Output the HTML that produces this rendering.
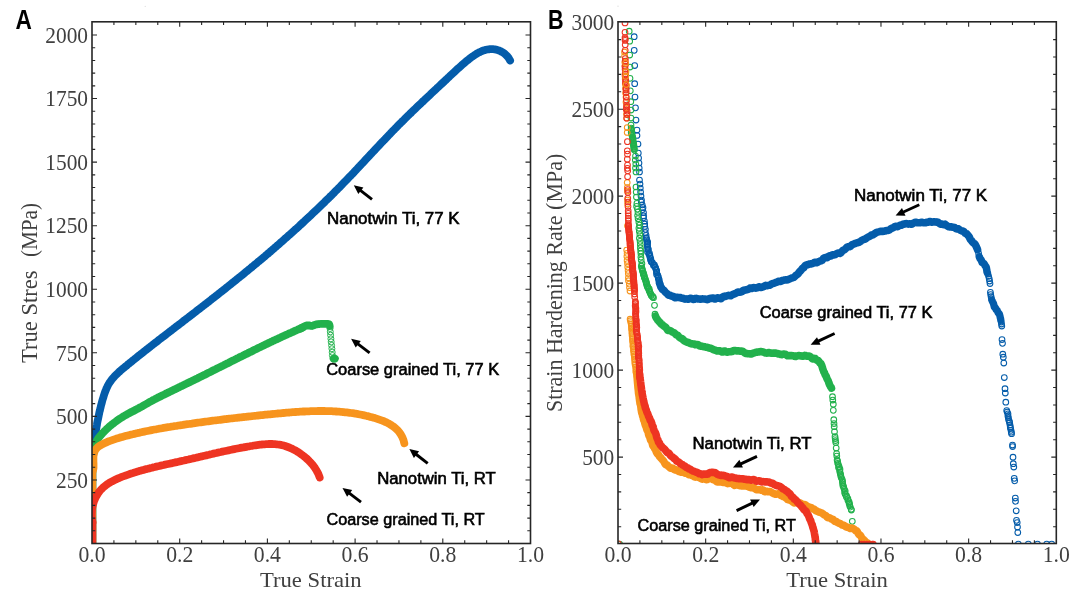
<!DOCTYPE html>
<html lang="en"><head><meta charset="utf-8"><title>Figure</title>
<style>
html,body{margin:0;padding:0;background:#fff;}
body{width:1080px;height:600px;overflow:hidden;}
svg{display:block;}
.serif{font-family:"Liberation Serif",serif;fill:#404040;}
.sans{font-family:"Liberation Sans",sans-serif;fill:#000;stroke:#000;stroke-width:0.6px;}
.lab{font-family:"Liberation Sans",sans-serif;font-weight:bold;fill:#000;}
</style></head><body>
<svg width="1080" height="600" viewBox="0 0 1080 600">
<rect width="1080" height="600" fill="#fff"/>
<circle cx="145.2" cy="6.3" r="0.6" fill="#d8d8d8"/><circle cx="618" cy="6.2" r="0.6" fill="#d8d8d8"/>
<defs>
<clipPath id="ca"><rect x="92.0" y="21.8" width="438.5" height="521.7"/></clipPath>
<clipPath id="cb"><rect x="618.0" y="21.8" width="438.3" height="521.7"/></clipPath>
</defs>
<g clip-path="url(#ca)">
<path d="M92.3,546L92.3,470" stroke="#045CAA" stroke-width="7.8" stroke-linecap="round" fill="none"/>
<path d="M92.4,470.0 L92.5,468.5 L92.5,467.0 L92.6,465.5 L92.6,464.0 L92.7,462.5 L92.8,461.0 L92.9,459.5 L93.0,458.0 L93.1,456.5 L93.2,455.0 L93.3,453.5 L93.4,452.0 L93.6,450.5 L93.7,449.0 L93.8,447.5 L94.0,446.0 L94.1,444.5 L94.3,443.0 L94.5,441.5 L94.7,440.0 L94.9,438.5 L95.0,437.0 L95.2,435.5 L95.5,434.0 L95.7,432.5 L95.9,431.0 L96.1,429.5 L96.4,428.0 L96.6,426.5 L96.9,425.1 L97.1,423.6 L97.4,422.1 L97.7,420.6 L98.0,419.2 L98.3,417.7 L98.6,416.2 L98.9,414.8 L99.2,413.3 L99.5,411.8 L99.9,410.4 L100.2,408.9 L100.6,407.5 L100.9,406.0 L101.3,404.5 L101.7,403.1 L102.1,401.6 L102.5,400.1 L102.9,398.7 L103.4,397.2 L103.8,395.7 L104.3,394.3 L104.8,392.8 L105.3,391.4 L105.9,390.0 L106.4,388.6 L107.1,387.2 L107.7,385.8 L108.4,384.5 L109.2,383.2 L110.0,382.0 L110.9,380.8 L111.7,379.6 L112.7,378.4 L113.7,377.3 L114.7,376.2 L115.7,375.1 L116.8,374.1 L117.9,373.1 L119.0,372.0 L120.1,371.0 L121.2,370.1 L122.4,369.1 L123.6,368.1 L124.7,367.1 L125.9,366.2 L127.1,365.2 L128.2,364.2 L129.4,363.3 L130.6,362.3 L131.8,361.4 L132.9,360.4 L134.1,359.5 L135.3,358.5 L136.5,357.6 L137.6,356.6 L138.8,355.7 L140.0,354.8 L141.2,353.8 L142.4,352.9 L143.5,352.0 L144.7,351.0 L145.9,350.1 L147.1,349.2 L148.3,348.2 L149.5,347.3 L150.6,346.4 L151.8,345.5 L153.0,344.5 L154.2,343.6 L155.4,342.7 L156.6,341.8 L157.8,340.9 L158.9,339.9 L160.1,339.0 L161.3,338.1 L162.5,337.2 L163.7,336.3 L164.9,335.4 L166.1,334.4 L167.3,333.5 L168.5,332.6 L169.6,331.7 L170.8,330.8 L172.0,329.9 L173.2,329.0 L174.4,328.0 L175.6,327.1 L176.8,326.2 L178.0,325.3 L179.2,324.4 L180.4,323.5 L181.6,322.6 L182.8,321.7 L183.9,320.7 L185.1,319.8 L186.3,318.9 L187.5,318.0 L188.7,317.1 L189.9,316.2 L191.1,315.2 L192.3,314.3 L193.5,313.4 L194.7,312.5 L195.9,311.6 L197.1,310.6 L198.2,309.7 L199.4,308.8 L200.6,307.9 L201.8,307.0 L203.0,306.0 L204.2,305.1 L205.4,304.2 L206.6,303.3 L207.8,302.3 L209.0,301.4 L210.1,300.5 L211.3,299.6 L212.5,298.6 L213.7,297.7 L214.9,296.8 L216.1,295.8 L217.3,294.9 L218.4,294.0 L219.6,293.0 L220.8,292.1 L222.0,291.2 L223.2,290.2 L224.4,289.3 L225.6,288.4 L226.7,287.4 L227.9,286.5 L229.1,285.5 L230.3,284.6 L231.5,283.7 L232.6,282.7 L233.8,281.8 L235.0,280.8 L236.2,279.9 L237.3,278.9 L238.5,278.0 L239.7,277.0 L240.9,276.1 L242.0,275.2 L243.2,274.2 L244.4,273.2 L245.5,272.3 L246.7,271.3 L247.9,270.4 L249.0,269.4 L250.2,268.5 L251.4,267.5 L252.5,266.5 L253.7,265.6 L254.9,264.6 L256.0,263.7 L257.2,262.7 L258.3,261.7 L259.5,260.8 L260.7,259.8 L261.8,258.8 L263.0,257.9 L264.1,256.9 L265.3,255.9 L266.4,254.9 L267.6,254.0 L268.7,253.0 L269.9,252.0 L271.0,251.0 L272.2,250.0 L273.3,249.1 L274.4,248.1 L275.6,247.1 L276.7,246.1 L277.9,245.1 L279.0,244.1 L280.1,243.1 L281.3,242.1 L282.4,241.1 L283.5,240.1 L284.6,239.1 L285.8,238.1 L286.9,237.1 L288.0,236.1 L289.2,235.1 L290.3,234.1 L291.4,233.1 L292.5,232.1 L293.6,231.1 L294.7,230.1 L295.9,229.1 L297.0,228.1 L298.1,227.1 L299.2,226.1 L300.3,225.0 L301.4,224.0 L302.5,223.0 L303.6,222.0 L304.7,220.9 L305.8,219.9 L306.9,218.9 L308.0,217.9 L309.1,216.8 L310.2,215.8 L311.3,214.8 L312.4,213.7 L313.5,212.7 L314.6,211.7 L315.7,210.6 L316.8,209.6 L317.9,208.6 L319.0,207.5 L320.0,206.5 L321.1,205.4 L322.2,204.4 L323.3,203.3 L324.4,202.3 L325.4,201.2 L326.5,200.2 L327.6,199.1 L328.7,198.1 L329.7,197.0 L330.8,196.0 L331.9,194.9 L332.9,193.8 L334.0,192.8 L335.0,191.7 L336.1,190.6 L337.2,189.6 L338.2,188.5 L339.3,187.4 L340.3,186.4 L341.4,185.3 L342.4,184.2 L343.5,183.1 L344.5,182.1 L345.6,181.0 L346.6,179.9 L347.7,178.8 L348.7,177.7 L349.7,176.6 L350.8,175.6 L351.8,174.5 L352.9,173.4 L353.9,172.3 L354.9,171.2 L356.0,170.1 L357.0,169.0 L358.0,167.9 L359.0,166.8 L360.1,165.7 L361.1,164.6 L362.1,163.5 L363.2,162.4 L364.2,161.3 L365.2,160.2 L366.2,159.1 L367.3,158.0 L368.3,156.9 L369.3,155.8 L370.3,154.7 L371.4,153.6 L372.4,152.5 L373.4,151.4 L374.5,150.3 L375.5,149.2 L376.5,148.1 L377.5,147.0 L378.6,145.9 L379.6,144.8 L380.6,143.7 L381.7,142.6 L382.7,141.6 L383.7,140.5 L384.8,139.4 L385.8,138.3 L386.9,137.2 L387.9,136.1 L388.9,135.0 L390.0,133.9 L391.0,132.8 L392.1,131.7 L393.1,130.6 L394.2,129.6 L395.2,128.5 L396.3,127.4 L397.4,126.3 L398.4,125.2 L399.5,124.2 L400.6,123.1 L401.6,122.0 L402.7,121.0 L403.8,119.9 L404.9,118.8 L405.9,117.8 L407.0,116.7 L408.1,115.6 L409.2,114.6 L410.3,113.5 L411.4,112.5 L412.4,111.4 L413.5,110.4 L414.6,109.3 L415.7,108.3 L416.8,107.2 L417.9,106.2 L419.0,105.1 L420.1,104.1 L421.2,103.1 L422.3,102.0 L423.4,101.0 L424.5,99.9 L425.6,98.9 L426.7,97.9 L427.8,96.8 L428.9,95.8 L430.0,94.8 L431.1,93.7 L432.2,92.7 L433.3,91.7 L434.4,90.7 L435.5,89.6 L436.6,88.6 L437.6,87.6 L438.7,86.6 L439.8,85.6 L440.9,84.5 L442.0,83.5 L443.1,82.5 L444.2,81.5 L445.2,80.5 L446.3,79.5 L447.4,78.4 L448.5,77.4 L449.5,76.4 L450.6,75.4 L451.7,74.4 L452.8,73.4 L453.9,72.4 L454.9,71.4 L456.0,70.4 L457.1,69.3 L458.3,68.3 L459.4,67.3 L460.5,66.3 L461.6,65.3 L462.8,64.3 L464.0,63.3 L465.1,62.3 L466.3,61.3 L467.5,60.3 L468.8,59.3 L470.0,58.3 L471.2,57.4 L472.5,56.5 L473.8,55.6 L475.1,54.7 L476.4,53.9 L477.7,53.1 L479.0,52.4 L480.4,51.8 L481.7,51.2 L483.1,50.6 L484.5,50.2 L485.9,49.8 L487.3,49.5 L488.7,49.3 L490.1,49.1 L491.6,49.1 L493.0,49.2 L494.5,49.3 L495.9,49.6 L497.4,50.0 L498.8,50.4 L500.2,51.0 L501.5,51.7 L502.8,52.4 L504.1,53.3 L505.3,54.3 L506.4,55.3 L507.5,56.5 L508.5,57.7 L509.3,59.1 L510.1,60.5" fill="none" stroke="#045CAA" stroke-width="7.8" stroke-linecap="round" stroke-linejoin="round"/>
<path d="M92.3,546L92.3,462" stroke="#22B14C" stroke-width="7.8" stroke-linecap="round" fill="none"/>
<path d="M92.4,462.0 L92.4,460.4 L92.4,458.8 L92.5,457.3 L92.6,455.7 L92.7,454.2 L92.9,452.7 L93.1,451.2 L93.4,449.8 L93.7,448.3 L94.1,446.9 L94.6,445.5 L95.1,444.1 L95.7,442.8 L96.4,441.5 L97.1,440.2 L97.9,438.9 L98.8,437.7 L99.7,436.5 L100.7,435.3 L101.7,434.2 L102.7,433.0 L103.8,431.9 L104.8,430.8 L105.9,429.8 L107.0,428.7 L108.2,427.7 L109.3,426.7 L110.4,425.7 L111.6,424.7 L112.8,423.8 L114.0,422.9 L115.2,422.0 L116.4,421.1 L117.6,420.2 L118.9,419.3 L120.1,418.5 L121.4,417.7 L122.7,416.9 L123.9,416.1 L125.2,415.4 L126.5,414.7 L127.8,413.9 L129.1,413.2 L130.4,412.5 L131.7,411.8 L133.1,411.2 L134.4,410.5 L135.7,409.8 L137.0,409.1 L138.4,408.4 L139.7,407.6 L141.1,406.9 L142.4,406.2 L143.7,405.4 L145.1,404.6 L146.4,403.9 L147.8,403.1 L149.1,402.3 L150.5,401.6 L151.8,400.9 L153.1,400.1 L154.5,399.4 L155.8,398.7 L157.2,398.0 L158.5,397.3 L159.9,396.7 L161.2,396.0 L162.6,395.3 L163.9,394.7 L165.3,394.0 L166.6,393.3 L168.0,392.7 L169.3,392.0 L170.7,391.4 L172.0,390.7 L173.4,390.0 L174.7,389.4 L176.1,388.7 L177.4,388.1 L178.8,387.4 L180.1,386.8 L181.5,386.1 L182.8,385.5 L184.2,384.8 L185.5,384.1 L186.9,383.5 L188.2,382.8 L189.6,382.2 L190.9,381.5 L192.3,380.9 L193.6,380.2 L195.0,379.5 L196.3,378.9 L197.7,378.2 L199.0,377.5 L200.4,376.9 L201.7,376.2 L203.1,375.5 L204.4,374.9 L205.8,374.2 L207.1,373.5 L208.5,372.8 L209.8,372.2 L211.2,371.5 L212.5,370.8 L213.9,370.1 L215.2,369.5 L216.6,368.8 L218.0,368.1 L219.3,367.4 L220.7,366.7 L222.0,366.1 L223.4,365.4 L224.7,364.7 L226.1,364.0 L227.4,363.4 L228.8,362.7 L230.1,362.0 L231.5,361.3 L232.9,360.6 L234.2,360.0 L235.6,359.3 L236.9,358.6 L238.3,357.9 L239.6,357.2 L241.0,356.6 L242.4,355.9 L243.7,355.2 L245.1,354.5 L246.4,353.9 L247.8,353.2 L249.1,352.5 L250.5,351.9 L251.9,351.2 L253.2,350.5 L254.6,349.8 L255.9,349.2 L257.3,348.5 L258.7,347.8 L260.0,347.2 L261.4,346.5 L262.8,345.9 L264.1,345.2 L265.5,344.5 L266.8,343.9 L268.2,343.2 L269.6,342.6 L270.9,341.9 L272.3,341.3 L273.7,340.6 L275.0,340.0 L276.4,339.4 L277.8,338.7 L279.1,338.1 L280.5,337.5 L281.9,336.8 L283.2,336.2 L284.6,335.6 L286.0,334.9 L287.4,334.3 L288.7,333.7 L290.1,333.1 L291.5,332.5 L292.8,331.9 L294.2,331.2 L295.6,330.6 L297.0,330.0 L298.3,329.4 L299.7,328.9 L301.1,328.3 L302.5,327.7" fill="none" stroke="#22B14C" stroke-width="7.8" stroke-linecap="round" stroke-linejoin="round"/>
<path d="M300.0,328.8 L301.4,327.9 L302.8,327.2 L304.2,326.5 L305.7,325.8 L307.3,325.4 L308.8,325.4 L310.4,325.8 L312.0,326.0 L313.5,325.4 L315.0,324.7 L316.5,324.4 L318.1,324.1 L319.7,324.0 L321.3,323.8 L322.9,323.8 L324.5,323.8 L326.2,323.8 L327.9,323.9 L329.2,324.3 L329.7,326.0" fill="none" stroke="#22B14C" stroke-width="7.8" stroke-linecap="round" stroke-linejoin="round"/>
<g fill="none" stroke="#22B14C" stroke-width="0.95"><circle cx="330.0" cy="328.5" r="3.0"/><circle cx="330.3" cy="331.8" r="3.0"/><circle cx="330.6" cy="335.2" r="3.0"/><circle cx="330.9" cy="338.8" r="3.0"/><circle cx="331.2" cy="341.9" r="3.0"/><circle cx="331.6" cy="345.4" r="3.0"/><circle cx="331.9" cy="348.7" r="3.0"/><circle cx="332.2" cy="352.2" r="3.0"/><circle cx="332.4" cy="355.5" r="3.0"/></g>
<ellipse cx="334.2" cy="358.6" rx="4.7" ry="4.2" fill="#22B14C"/>
<path d="M92.3,546L92.3,472" stroke="#F7941D" stroke-width="7.8" stroke-linecap="round" fill="none"/>
<path d="M92.4,472.0 L92.9,470.7 L93.3,469.3 L93.5,467.9 L93.5,466.3 L93.5,464.8 L93.5,463.2 L93.4,461.6 L93.4,460.0 L93.4,458.4 L93.4,456.8 L93.6,455.3 L93.9,453.8 L94.3,452.4 L94.8,451.0 L95.5,449.7 L96.4,448.6 L97.4,447.5 L98.5,446.6 L99.7,445.7 L101.0,445.0 L102.4,444.2 L103.7,443.6 L105.1,442.9 L106.5,442.3 L107.9,441.7 L109.3,441.1 L110.8,440.6 L112.2,440.1 L113.6,439.6 L115.1,439.1 L116.5,438.6 L118.0,438.2 L119.4,437.8 L120.9,437.3 L122.3,436.9 L123.8,436.5 L125.3,436.1 L126.7,435.7 L128.2,435.4 L129.7,435.0 L131.1,434.6 L132.6,434.3 L134.1,433.9 L135.5,433.6 L137.0,433.2 L138.5,432.9 L139.9,432.6 L141.4,432.2 L142.9,431.9 L144.4,431.6 L145.8,431.3 L147.3,431.0 L148.8,430.7 L150.3,430.4 L151.7,430.1 L153.2,429.8 L154.7,429.5 L156.2,429.3 L157.7,429.0 L159.1,428.7 L160.6,428.5 L162.1,428.2 L163.6,427.9 L165.1,427.7 L166.6,427.4 L168.0,427.2 L169.5,427.0 L171.0,426.7 L172.5,426.5 L174.0,426.2 L175.5,426.0 L177.0,425.8 L178.4,425.5 L179.9,425.3 L181.4,425.1 L182.9,424.9 L184.4,424.6 L185.9,424.4 L187.4,424.2 L188.9,424.0 L190.4,423.8 L191.9,423.6 L193.4,423.3 L194.8,423.1 L196.3,422.9 L197.8,422.7 L199.3,422.5 L200.8,422.3 L202.3,422.1 L203.8,421.9 L205.3,421.7 L206.8,421.5 L208.3,421.3 L209.8,421.1 L211.3,420.9 L212.8,420.7 L214.3,420.5 L215.8,420.3 L217.3,420.2 L218.8,420.0 L220.3,419.8 L221.8,419.6 L223.3,419.4 L224.8,419.2 L226.3,419.0 L227.8,418.9 L229.3,418.7 L230.8,418.5 L232.3,418.3 L233.8,418.2 L235.3,418.0 L236.8,417.8 L238.3,417.6 L239.8,417.5 L241.3,417.3 L242.8,417.1 L244.4,417.0 L245.9,416.8 L247.4,416.6 L248.9,416.5 L250.4,416.3 L251.9,416.2 L253.4,416.0 L254.9,415.8 L256.4,415.7 L257.9,415.5 L259.4,415.4 L260.9,415.2 L262.4,415.1 L263.9,414.9 L265.4,414.7 L266.9,414.6 L268.4,414.4 L270.0,414.3 L271.5,414.1 L273.0,414.0 L274.5,413.8 L276.0,413.7 L277.5,413.5 L279.0,413.4 L280.5,413.3 L282.0,413.1 L283.5,413.0 L285.0,412.9 L286.5,412.7 L288.0,412.6 L289.6,412.5 L291.1,412.3 L292.6,412.2 L294.1,412.1 L295.6,412.0 L297.1,411.9 L298.6,411.8 L300.1,411.7 L301.6,411.6 L303.1,411.5 L304.6,411.5 L306.1,411.4 L307.6,411.3 L309.1,411.3 L310.6,411.2 L312.1,411.2 L313.7,411.1 L315.2,411.1 L316.7,411.1 L318.2,411.0 L319.7,411.0 L321.2,411.0 L322.7,411.0 L324.2,411.0 L325.7,411.1 L327.2,411.1 L328.7,411.1 L330.2,411.2 L331.7,411.2 L333.2,411.3 L334.7,411.4 L336.2,411.5 L337.7,411.6 L339.2,411.7 L340.7,411.8 L342.2,412.0 L343.7,412.1 L345.2,412.3 L346.7,412.4 L348.2,412.6 L349.7,412.8 L351.1,413.0 L352.6,413.2 L354.1,413.4 L355.6,413.7 L357.1,413.9 L358.6,414.2 L360.1,414.5 L361.6,414.8 L363.1,415.1 L364.6,415.4 L366.1,415.8 L367.5,416.1 L369.0,416.5 L370.5,416.9 L372.0,417.3 L373.5,417.7 L375.0,418.1 L376.5,418.6 L377.9,419.1 L379.4,419.6 L380.8,420.1 L382.3,420.6 L383.7,421.2 L385.1,421.8 L386.5,422.4 L387.8,423.1 L389.1,423.8 L390.4,424.6 L391.7,425.4 L392.9,426.2 L394.0,427.0 L395.2,428.0 L396.3,428.9 L397.3,429.9 L398.3,431.0 L399.2,432.1 L400.1,433.3 L400.9,434.6 L401.6,435.9 L402.3,437.2 L402.9,438.6 L403.5,440.1 L403.9,441.7 L404.3,443.3" fill="none" stroke="#F7941D" stroke-width="7.8" stroke-linecap="round" stroke-linejoin="round"/>
<path d="M92.3,546L92.3,522" stroke="#EE3422" stroke-width="7.8" stroke-linecap="round" fill="none"/>
<path d="M92.5,522.1 L92.2,520.5 L92.0,518.9 L91.8,517.4 L91.7,515.8 L91.7,514.3 L91.8,512.7 L91.9,511.2 L92.0,509.6 L92.2,508.1 L92.5,506.6 L92.9,505.1 L93.3,503.7 L93.7,502.2 L94.2,500.8 L94.8,499.4 L95.4,498.0 L96.1,496.7 L96.8,495.4 L97.6,494.1 L98.4,492.9 L99.3,491.7 L100.2,490.5 L101.2,489.4 L102.2,488.4 L103.3,487.3 L104.4,486.4 L105.6,485.4 L106.8,484.6 L108.0,483.7 L109.3,482.9 L110.6,482.1 L111.9,481.4 L113.3,480.7 L114.7,480.0 L116.1,479.3 L117.5,478.7 L118.9,478.1 L120.3,477.5 L121.7,476.9 L123.2,476.4 L124.6,475.9 L126.1,475.3 L127.5,474.8 L128.9,474.3 L130.4,473.8 L131.8,473.3 L133.3,472.9 L134.7,472.4 L136.2,472.0 L137.6,471.6 L139.0,471.1 L140.5,470.7 L141.9,470.3 L143.4,469.9 L144.8,469.5 L146.3,469.1 L147.7,468.8 L149.2,468.4 L150.6,468.0 L152.1,467.7 L153.5,467.3 L155.0,467.0 L156.4,466.6 L157.9,466.3 L159.3,466.0 L160.8,465.6 L162.2,465.3 L163.7,465.0 L165.1,464.6 L166.6,464.3 L168.0,464.0 L169.5,463.7 L170.9,463.4 L172.4,463.1 L173.9,462.7 L175.3,462.4 L176.8,462.1 L178.2,461.8 L179.7,461.4 L181.2,461.1 L182.6,460.8 L184.1,460.5 L185.6,460.1 L187.0,459.8 L188.5,459.5 L190.0,459.1 L191.4,458.8 L192.9,458.4 L194.4,458.1 L195.8,457.8 L197.3,457.4 L198.8,457.1 L200.2,456.7 L201.7,456.4 L203.2,456.0 L204.7,455.7 L206.2,455.4 L207.6,455.0 L209.1,454.7 L210.6,454.3 L212.1,454.0 L213.6,453.6 L215.0,453.3 L216.5,453.0 L218.0,452.6 L219.5,452.3 L221.0,452.0 L222.5,451.6 L224.0,451.3 L225.5,451.0 L226.9,450.7 L228.4,450.4 L229.9,450.0 L231.4,449.7 L232.9,449.4 L234.4,449.1 L235.9,448.8 L237.4,448.5 L238.9,448.2 L240.4,447.9 L241.9,447.6 L243.4,447.4 L244.9,447.1 L246.5,446.8 L248.0,446.5 L249.5,446.3 L251.0,446.0 L252.5,445.8 L254.0,445.5 L255.5,445.3 L257.0,445.1 L258.6,444.9 L260.1,444.7 L261.6,444.5 L263.1,444.4 L264.6,444.3 L266.1,444.2 L267.6,444.1 L269.1,444.0 L270.6,444.0 L272.0,444.0 L273.5,444.1 L275.0,444.2 L276.5,444.3 L277.9,444.5 L279.4,444.7 L280.8,444.9 L282.2,445.2 L283.7,445.6 L285.1,446.0 L286.5,446.5 L287.9,447.0 L289.3,447.5 L290.6,448.1 L292.0,448.7 L293.3,449.4 L294.7,450.1 L296.0,450.8 L297.3,451.6 L298.6,452.4 L299.9,453.3 L301.1,454.2 L302.4,455.1 L303.6,456.0 L304.8,457.0 L306.0,458.0 L307.1,459.0 L308.3,460.1 L309.3,461.2 L310.4,462.3 L311.4,463.4 L312.4,464.6 L313.4,465.8 L314.3,467.0 L315.1,468.2 L315.9,469.5 L316.7,470.8 L317.4,472.1 L318.1,473.4 L318.7,474.8 L319.2,476.1 L319.7,477.5" fill="none" stroke="#EE3422" stroke-width="7.8" stroke-linecap="round" stroke-linejoin="round"/>
</g>
<g clip-path="url(#cb)">
<g fill="none" stroke="#045CAA" stroke-width="1.05"><circle cx="634.2" cy="36.7" r="2.85"/><circle cx="634.2" cy="50.3" r="2.85"/><circle cx="634.7" cy="65.5" r="2.85"/><circle cx="634.7" cy="83.7" r="2.85"/><circle cx="635.0" cy="97.0" r="2.85"/><circle cx="635.5" cy="107.8" r="2.85"/><circle cx="636.0" cy="120.0" r="2.85"/><circle cx="637.0" cy="130.0" r="2.85"/><circle cx="637.0" cy="135.5" r="2.85"/><circle cx="638.0" cy="144.0" r="2.85"/><circle cx="638.3" cy="153.0" r="2.85"/><circle cx="638.6" cy="158.0" r="2.85"/><circle cx="639.0" cy="163.0" r="2.85"/><circle cx="639.2" cy="168.0" r="2.85"/><circle cx="639.5" cy="172.0" r="2.85"/><circle cx="639.5" cy="180.0" r="2.85"/><circle cx="640.0" cy="184.0" r="2.85"/><circle cx="640.3" cy="188.0" r="2.85"/><circle cx="640.6" cy="192.0" r="2.85"/><circle cx="641.0" cy="196.0" r="2.85"/><circle cx="641.5" cy="200.0" r="2.85"/></g>
<g fill="none" stroke="#045CAA" stroke-width="1.05"><circle cx="641.3" cy="202.0" r="2.85"/><circle cx="642.2" cy="204.8" r="2.85"/><circle cx="643.0" cy="207.7" r="2.85"/><circle cx="642.5" cy="209.6" r="2.85"/><circle cx="643.5" cy="212.6" r="2.85"/><circle cx="643.6" cy="215.9" r="2.85"/><circle cx="643.5" cy="217.8" r="2.85"/><circle cx="644.4" cy="221.2" r="2.85"/><circle cx="644.7" cy="224.0" r="2.85"/><circle cx="644.8" cy="226.4" r="2.85"/><circle cx="645.4" cy="229.3" r="2.85"/><circle cx="645.3" cy="232.6" r="2.85"/><circle cx="646.1" cy="235.3" r="2.85"/><circle cx="646.2" cy="237.8" r="2.85"/></g>
<g fill="none" stroke="#045CAA" stroke-width="1.05"><circle cx="646.3" cy="238.7" r="2.85"/><circle cx="646.8" cy="239.9" r="2.85"/><circle cx="647.0" cy="241.5" r="2.85"/><circle cx="647.7" cy="242.1" r="2.85"/><circle cx="647.5" cy="243.7" r="2.85"/><circle cx="647.3" cy="244.4" r="2.85"/><circle cx="647.4" cy="246.3" r="2.85"/><circle cx="647.7" cy="247.3" r="2.85"/><circle cx="647.9" cy="248.8" r="2.85"/><circle cx="648.2" cy="248.8" r="2.85"/><circle cx="648.2" cy="250.0" r="2.85"/><circle cx="647.5" cy="251.7" r="2.85"/><circle cx="649.4" cy="253.0" r="2.85"/><circle cx="648.8" cy="253.8" r="2.85"/><circle cx="649.9" cy="255.4" r="2.85"/><circle cx="649.8" cy="256.4" r="2.85"/><circle cx="650.2" cy="257.9" r="2.85"/><circle cx="650.8" cy="258.8" r="2.85"/><circle cx="650.6" cy="260.0" r="2.85"/><circle cx="651.2" cy="261.3" r="2.85"/><circle cx="651.4" cy="262.0" r="2.85"/><circle cx="652.4" cy="262.6" r="2.85"/><circle cx="653.6" cy="264.6" r="2.85"/><circle cx="653.5" cy="265.4" r="2.85"/><circle cx="654.5" cy="265.2" r="2.85"/><circle cx="655.1" cy="267.1" r="2.85"/><circle cx="655.6" cy="267.8" r="2.85"/><circle cx="655.9" cy="269.2" r="2.85"/><circle cx="656.7" cy="270.5" r="2.85"/><circle cx="656.6" cy="272.0" r="2.85"/><circle cx="656.7" cy="272.5" r="2.85"/><circle cx="656.6" cy="274.4" r="2.85"/><circle cx="657.8" cy="275.3" r="2.85"/><circle cx="658.0" cy="276.1" r="2.85"/><circle cx="658.2" cy="277.2" r="2.85"/><circle cx="658.3" cy="278.4" r="2.85"/><circle cx="659.2" cy="279.7" r="2.85"/><circle cx="658.9" cy="280.5" r="2.85"/><circle cx="659.0" cy="282.4" r="2.85"/><circle cx="659.7" cy="283.0" r="2.85"/></g>
<path d="M659.8,283.7 L660.1,284.6 L660.5,285.9 L660.9,287.1 L661.4,287.7 L661.9,288.4 L662.4,289.3 L663.1,289.9 L663.8,290.3 L664.6,291.1 L665.3,292.1 L666.1,292.9 L666.9,293.4 L667.7,294.3 L668.6,295.1 L669.5,295.1 L670.4,295.4 L671.3,296.0 L672.3,296.2 L673.2,296.4 L674.1,297.2 L675.1,297.8 L676.1,297.5 L677.1,297.2 L678.1,297.4 L679.1,297.6 L680.1,297.5 L681.1,297.8 L682.1,298.3 L683.1,298.4 L684.1,298.8 L685.1,299.1 L686.1,298.9 L687.1,299.1 L688.1,299.3 L689.1,298.8 L690.1,298.3 L691.1,298.2 L692.1,298.8 L693.1,299.5 L694.1,299.3 L695.1,298.6 L696.1,298.4 L697.1,298.7 L698.1,299.0 L699.1,299.0 L700.2,299.1 L701.2,299.1 L702.2,298.9 L703.2,299.0 L704.2,299.0 L705.2,299.0 L706.2,299.4 L707.2,299.7 L708.2,299.4 L709.2,298.7 L710.2,298.4 L711.2,298.4 L712.2,298.0 L713.2,298.1 L714.2,298.9 L715.2,299.0 L716.2,298.4 L717.2,297.9 L718.2,297.9 L719.2,298.1 L720.2,298.5 L721.1,298.7 L722.1,297.8 L723.1,296.8 L724.1,296.4 L725.0,296.5 L726.0,296.2 L727.0,295.8 L727.9,295.5 L728.9,295.4 L729.9,295.6 L730.8,295.7 L731.8,295.1 L732.7,294.5 L733.7,294.1 L734.6,293.8 L735.6,293.3 L736.6,292.8 L737.5,292.2 L738.5,292.0 L739.4,292.3 L740.4,292.1 L741.3,291.8 L742.3,291.4 L743.2,290.4 L744.2,290.1 L745.1,290.2 L746.1,289.9 L747.0,289.6 L747.9,289.5 L748.9,288.9 L749.9,288.1 L750.8,288.0 L751.8,288.4 L752.8,288.0 L753.8,287.5 L754.8,287.9 L755.8,288.2 L756.8,287.9 L757.8,287.3 L758.8,286.8 L759.8,287.0 L760.8,287.5 L761.8,287.3 L762.8,286.9 L763.8,286.5 L764.7,285.9 L765.7,285.4 L766.7,285.6 L767.7,285.6 L768.6,285.2 L769.6,285.2 L770.5,284.8 L771.5,284.0 L772.4,283.6 L773.4,283.5 L774.3,283.2 L775.3,282.7 L776.2,282.3 L777.2,282.0 L778.1,281.5 L779.1,281.2 L780.1,281.4 L781.1,281.2 L782.1,280.6 L783.1,280.4 L784.1,280.1 L785.1,279.9 L786.1,280.0 L787.1,279.9 L788.0,279.7 L789.0,279.2 L790.0,278.8 L790.9,278.4 L791.8,278.0 L792.7,277.8 L793.5,277.5 L794.3,277.1 L795.1,276.2 L795.9,275.3 L796.6,274.8 L797.4,274.4 L798.1,273.7 L798.8,272.7 L799.6,271.7 L800.3,271.0 L801.0,270.4 L801.7,269.4 L802.4,268.4 L803.1,268.2 L803.8,267.7 L804.5,266.4 L805.3,265.5 L806.0,265.1 L806.9,264.8 L807.7,264.7 L808.6,264.3 L809.6,264.0 L810.6,264.0 L811.6,263.7 L812.6,263.5 L813.6,262.9 L814.6,262.3 L815.6,262.4 L816.6,262.8 L817.5,262.4 L818.4,261.8 L819.3,261.4 L820.2,261.0 L821.1,260.8 L822.0,260.4 L822.9,259.2 L823.7,258.1 L824.6,257.7 L825.5,257.6 L826.4,257.8 L827.4,257.5 L828.3,256.5 L829.3,255.9 L830.2,256.1 L831.2,255.8 L832.2,255.0 L833.1,254.8 L834.1,254.9 L835.1,254.6 L836.0,254.1 L837.0,253.5 L837.9,253.0 L838.9,253.0 L839.8,253.4 L840.7,252.9 L841.5,252.0 L842.4,250.9 L843.2,250.2 L843.9,249.9 L844.7,249.6 L845.4,248.9 L846.2,248.0 L847.0,247.2 L847.8,246.8 L848.6,246.7 L849.5,246.8 L850.4,246.4 L851.3,245.4 L852.2,244.6 L853.2,244.3 L854.1,243.8 L855.1,243.5 L856.0,243.1 L857.0,242.8 L857.9,242.7 L858.8,242.4 L859.7,241.9 L860.6,241.3 L861.5,240.5 L862.4,240.0 L863.3,239.7 L864.2,239.4 L865.1,239.1 L866.0,238.5 L866.9,237.8 L867.8,237.3 L868.7,236.8 L869.6,236.4 L870.5,235.8 L871.4,235.1 L872.2,235.0 L873.1,234.8 L874.0,234.1 L874.9,233.5 L875.8,232.9 L876.7,232.4 L877.6,232.1 L878.5,231.9 L879.5,231.6 L880.4,231.3 L881.4,231.4 L882.4,231.4 L883.4,231.2 L884.4,231.1 L885.4,230.9 L886.4,230.5 L887.4,230.5 L888.3,230.5 L889.2,230.0 L890.1,229.4 L890.9,228.6 L891.8,228.2 L892.7,228.0 L893.6,227.5 L894.5,226.8 L895.5,226.2 L896.4,226.4 L897.4,226.7 L898.3,226.4 L899.3,225.6 L900.3,225.1 L901.3,225.3 L902.3,224.7 L903.3,224.1 L904.3,224.2 L905.3,223.9 L906.3,223.5 L907.3,223.9 L908.2,224.1 L909.2,223.8 L910.2,223.8 L911.2,224.2 L912.2,224.0 L913.2,223.3 L914.2,222.7 L915.2,222.3 L916.2,222.4 L917.2,222.8 L918.2,222.8 L919.2,222.8 L920.2,222.7 L921.2,222.3 L922.2,222.4 L923.2,222.7 L924.2,222.8 L925.2,222.8 L926.2,222.5 L927.2,222.2 L928.3,222.1 L929.3,221.6 L930.3,221.5 L931.3,222.0 L932.2,222.2 L933.2,221.9 L934.2,221.7 L935.2,221.9 L936.2,222.2 L937.2,222.1 L938.1,222.2 L939.1,223.1 L940.1,224.0 L941.1,224.2 L942.0,224.1 L943.0,224.5 L944.0,224.6 L945.0,224.2 L945.9,224.8 L946.9,225.7 L947.9,226.3 L948.9,226.8 L949.9,226.9 L950.8,226.8 L951.8,227.0 L952.7,227.2 L953.7,227.2 L954.7,227.6 L955.7,228.5 L956.6,229.0 L957.6,228.8 L958.5,228.9 L959.4,229.6 L960.3,230.2 L961.2,230.6 L962.1,231.0 L962.9,231.1 L963.8,231.6 L964.6,232.5 L965.4,233.4 L966.2,233.9 L966.9,233.9 L967.5,234.6 L968.2,235.7 L968.8,236.2 L969.3,237.0 L969.9,238.5 L970.5,239.6 L971.1,240.1 L971.7,240.9 L972.3,241.8 L973.0,242.6 L973.7,243.2 L974.4,243.6 L975.0,244.2 L975.6,245.2 L976.1,246.2 L976.5,247.3 L976.9,248.1 L977.3,248.8 L977.6,249.9" fill="none" stroke="#045CAA" stroke-width="7.6" stroke-linecap="round" stroke-linejoin="round"/>
<path d="M992.0,300.5 L992.5,301.6 L992.9,302.3 L993.4,303.3 L993.9,305.2 L994.3,306.9 L994.8,307.6 L995.3,307.7 L995.8,308.6 L996.2,309.8 L996.8,310.2 L997.3,310.7 L997.8,312.0 L998.4,313.0 L998.8,313.3 L999.3,313.8 L999.7,315.1 L1000.1,316.7 L1000.3,317.7 L1000.6,318.8 L1000.8,320.1" fill="none" stroke="#045CAA" stroke-width="7.3" stroke-linecap="round" stroke-linejoin="round"/>
<path d="M979.3,256.7 L979.6,257.6 L980.0,258.5 L980.5,259.1 L981.0,259.8 L981.6,261.0 L982.2,262.5 L983.0,263.1 L983.7,263.3 L984.4,264.2 L985.0,265.5 L985.5,266.3 L985.9,266.5 L986.3,267.4 L986.7,269.6 L987.0,271.8 L987.3,272.6" fill="none" stroke="#045CAA" stroke-width="7.5" stroke-linecap="round" stroke-linejoin="round"/>
<g fill="none" stroke="#045CAA" stroke-width="1.05"><circle cx="978.6" cy="253.4" r="2.85"/><circle cx="987.9" cy="274.0" r="2.85"/><circle cx="988.6" cy="276.3" r="2.85"/><circle cx="989.2" cy="278.7" r="2.85"/><circle cx="989.6" cy="281.0" r="2.85"/><circle cx="990.0" cy="283.5" r="2.85"/><circle cx="990.4" cy="292.3" r="2.85"/><circle cx="990.7" cy="294.5" r="2.85"/><circle cx="991.1" cy="296.7" r="2.85"/><circle cx="991.5" cy="298.8" r="2.85"/><circle cx="1001.2" cy="322.0" r="2.85"/><circle cx="1001.5" cy="324.0" r="2.85"/><circle cx="1001.8" cy="326.0" r="2.85"/></g>
<g fill="none" stroke="#045CAA" stroke-width="1.05"><circle cx="1007.2" cy="412.1" r="2.85"/><circle cx="1008.0" cy="413.8" r="2.85"/><circle cx="1007.9" cy="415.9" r="2.85"/><circle cx="1008.4" cy="417.7" r="2.85"/><circle cx="1008.6" cy="419.8" r="2.85"/><circle cx="1009.4" cy="421.4" r="2.85"/><circle cx="1009.6" cy="422.7" r="2.85"/><circle cx="1010.0" cy="424.9" r="2.85"/><circle cx="1010.3" cy="426.9" r="2.85"/><circle cx="1010.5" cy="428.3" r="2.85"/><circle cx="1011.0" cy="430.3" r="2.85"/><circle cx="1011.3" cy="432.2" r="2.85"/><circle cx="1011.6" cy="433.7" r="2.85"/></g>
<g fill="none" stroke="#045CAA" stroke-width="1.05"><circle cx="1002.0" cy="339.5" r="2.85"/><circle cx="1002.5" cy="343.3" r="2.85"/><circle cx="1002.8" cy="354.2" r="2.85"/><circle cx="1003.3" cy="357.2" r="2.85"/><circle cx="1003.8" cy="363.0" r="2.85"/><circle cx="1004.3" cy="377.5" r="2.85"/><circle cx="1005.0" cy="388.7" r="2.85"/><circle cx="1005.3" cy="393.0" r="2.85"/><circle cx="1005.8" cy="402.2" r="2.85"/><circle cx="1006.7" cy="410.5" r="2.85"/><circle cx="1012.5" cy="445.0" r="2.85"/><circle cx="1012.6" cy="446.5" r="2.85"/><circle cx="1013.0" cy="457.2" r="2.85"/><circle cx="1013.3" cy="463.7" r="2.85"/><circle cx="1013.8" cy="467.0" r="2.85"/><circle cx="1014.2" cy="478.3" r="2.85"/><circle cx="1014.7" cy="480.8" r="2.85"/><circle cx="1015.3" cy="498.0" r="2.85"/><circle cx="1015.5" cy="501.3" r="2.85"/><circle cx="1016.2" cy="510.8" r="2.85"/><circle cx="1016.5" cy="520.3" r="2.85"/><circle cx="1017.2" cy="522.5" r="2.85"/><circle cx="1017.5" cy="527.0" r="2.85"/><circle cx="1017.8" cy="532.5" r="2.85"/><circle cx="1018.3" cy="544.0" r="2.85"/><circle cx="1028.3" cy="544.0" r="2.85"/><circle cx="1037.5" cy="544.0" r="2.85"/><circle cx="1046.7" cy="544.0" r="2.85"/><circle cx="1051.7" cy="544.0" r="2.85"/></g>
<g fill="none" stroke="#22B14C" stroke-width="1.05"><circle cx="629.2" cy="31.2" r="2.85"/><circle cx="629.7" cy="41.2" r="2.85"/><circle cx="629.7" cy="55.0" r="2.85"/><circle cx="630.0" cy="67.0" r="2.85"/><circle cx="630.0" cy="78.3" r="2.85"/><circle cx="630.3" cy="90.8" r="2.85"/><circle cx="630.8" cy="101.7" r="2.85"/><circle cx="631.0" cy="110.0" r="2.85"/><circle cx="631.0" cy="118.0" r="2.85"/><circle cx="631.0" cy="125.0" r="2.85"/></g>
<g fill="none" stroke="#22B14C" stroke-width="1.05"><circle cx="631.2" cy="128.1" r="2.85"/><circle cx="631.3" cy="129.2" r="2.85"/><circle cx="631.2" cy="129.3" r="2.85"/><circle cx="631.2" cy="130.3" r="2.85"/><circle cx="631.4" cy="131.4" r="2.85"/><circle cx="631.2" cy="132.3" r="2.85"/><circle cx="631.4" cy="133.1" r="2.85"/><circle cx="631.8" cy="133.9" r="2.85"/><circle cx="632.0" cy="134.7" r="2.85"/><circle cx="632.0" cy="135.3" r="2.85"/><circle cx="632.3" cy="136.8" r="2.85"/><circle cx="632.8" cy="137.6" r="2.85"/><circle cx="632.7" cy="138.0" r="2.85"/><circle cx="632.9" cy="139.0" r="2.85"/><circle cx="632.8" cy="139.8" r="2.85"/><circle cx="633.0" cy="140.6" r="2.85"/><circle cx="633.1" cy="141.3" r="2.85"/><circle cx="633.1" cy="142.9" r="2.85"/><circle cx="633.3" cy="143.2" r="2.85"/><circle cx="633.6" cy="144.2" r="2.85"/><circle cx="633.4" cy="144.9" r="2.85"/><circle cx="634.0" cy="145.8" r="2.85"/><circle cx="633.9" cy="146.9" r="2.85"/><circle cx="633.9" cy="147.5" r="2.85"/><circle cx="634.1" cy="148.6" r="2.85"/><circle cx="634.0" cy="149.0" r="2.85"/><circle cx="634.4" cy="150.1" r="2.85"/></g>
<g fill="none" stroke="#22B14C" stroke-width="1.05"><circle cx="635.5" cy="156.0" r="2.85"/><circle cx="635.3" cy="160.0" r="2.85"/><circle cx="635.8" cy="164.0" r="2.85"/><circle cx="635.5" cy="168.0" r="2.85"/><circle cx="636.0" cy="172.0" r="2.85"/><circle cx="636.0" cy="187.0" r="2.85"/><circle cx="636.2" cy="192.0" r="2.85"/><circle cx="636.4" cy="197.0" r="2.85"/></g>
<g fill="none" stroke="#22B14C" stroke-width="1.05"><circle cx="636.9" cy="203.4" r="2.85"/><circle cx="636.6" cy="206.4" r="2.85"/><circle cx="637.4" cy="209.1" r="2.85"/><circle cx="638.0" cy="212.2" r="2.85"/><circle cx="637.6" cy="215.6" r="2.85"/><circle cx="638.1" cy="218.7" r="2.85"/><circle cx="638.9" cy="222.2" r="2.85"/><circle cx="639.6" cy="225.2" r="2.85"/><circle cx="638.9" cy="228.2" r="2.85"/><circle cx="639.3" cy="231.2" r="2.85"/><circle cx="639.9" cy="234.6" r="2.85"/><circle cx="639.4" cy="238.2" r="2.85"/><circle cx="640.1" cy="241.3" r="2.85"/><circle cx="640.3" cy="244.6" r="2.85"/><circle cx="640.4" cy="247.9" r="2.85"/><circle cx="640.7" cy="250.9" r="2.85"/><circle cx="640.9" cy="253.5" r="2.85"/><circle cx="640.9" cy="257.1" r="2.85"/><circle cx="641.2" cy="259.9" r="2.85"/><circle cx="641.9" cy="263.5" r="2.85"/><circle cx="641.3" cy="266.2" r="2.85"/></g>
<g fill="none" stroke="#22B14C" stroke-width="1.05"><circle cx="641.9" cy="268.0" r="2.85"/><circle cx="642.1" cy="269.0" r="2.85"/><circle cx="642.4" cy="270.2" r="2.85"/><circle cx="642.6" cy="271.0" r="2.85"/><circle cx="643.4" cy="272.8" r="2.85"/><circle cx="643.1" cy="272.8" r="2.85"/><circle cx="643.4" cy="274.2" r="2.85"/><circle cx="643.6" cy="274.8" r="2.85"/><circle cx="644.3" cy="275.7" r="2.85"/><circle cx="644.3" cy="276.8" r="2.85"/><circle cx="644.3" cy="277.5" r="2.85"/><circle cx="645.1" cy="279.0" r="2.85"/><circle cx="645.4" cy="279.4" r="2.85"/><circle cx="645.7" cy="281.1" r="2.85"/><circle cx="646.3" cy="281.9" r="2.85"/><circle cx="646.2" cy="283.1" r="2.85"/><circle cx="646.6" cy="283.5" r="2.85"/><circle cx="646.8" cy="285.3" r="2.85"/><circle cx="647.5" cy="286.2" r="2.85"/><circle cx="647.6" cy="287.1" r="2.85"/><circle cx="647.9" cy="287.7" r="2.85"/><circle cx="649.2" cy="288.9" r="2.85"/><circle cx="648.7" cy="289.6" r="2.85"/><circle cx="649.4" cy="291.0" r="2.85"/><circle cx="649.5" cy="291.0" r="2.85"/><circle cx="650.0" cy="292.5" r="2.85"/><circle cx="650.6" cy="293.8" r="2.85"/><circle cx="651.1" cy="294.6" r="2.85"/><circle cx="651.2" cy="295.5" r="2.85"/><circle cx="652.6" cy="296.4" r="2.85"/><circle cx="652.6" cy="297.1" r="2.85"/><circle cx="653.5" cy="297.7" r="2.85"/></g>
<g fill="none" stroke="#22B14C" stroke-width="1.05"><circle cx="654.5" cy="305.3" r="2.85"/><circle cx="655.0" cy="314.2" r="2.85"/></g>
<path d="M655.5,316.0 L655.9,317.2 L656.4,318.1 L656.9,318.8 L657.4,319.6 L658.0,320.4 L658.6,321.1 L659.2,321.7 L659.9,322.3 L660.6,323.3 L661.4,324.2 L662.1,324.5 L662.9,325.3 L663.7,326.0 L664.5,326.5 L665.3,327.0 L666.1,327.8 L666.9,329.0 L667.8,330.3 L668.6,330.5 L669.5,330.4 L670.4,330.8 L671.3,331.2 L672.1,331.8 L673.0,332.4 L673.9,332.6 L674.7,333.2 L675.5,334.1 L676.3,334.8 L677.1,335.1 L677.9,335.5 L678.6,336.4 L679.4,337.3 L680.2,337.8 L680.9,338.4 L681.7,338.5 L682.5,338.9 L683.4,340.1 L684.2,340.9 L685.1,341.2 L686.0,341.8 L686.9,342.3 L687.8,342.4 L688.7,342.5 L689.7,343.2 L690.6,343.6 L691.6,343.7 L692.6,344.0 L693.5,344.0 L694.5,344.1 L695.5,344.8 L696.5,344.7 L697.5,344.5 L698.5,345.0 L699.5,345.8 L700.5,346.1 L701.5,346.0 L702.4,346.3 L703.4,346.6 L704.4,346.7 L705.3,347.0 L706.3,347.2 L707.3,347.3 L708.2,347.6 L709.2,348.1 L710.2,348.3 L711.1,348.4 L712.1,348.9 L713.1,349.5 L714.1,349.8 L715.0,350.1 L716.0,350.5 L717.0,350.9 L718.0,351.0 L719.0,350.8 L720.0,350.9 L721.0,351.4 L722.0,352.0 L723.0,351.9 L724.0,351.0 L725.0,351.1 L725.9,351.9 L726.9,352.2 L727.9,352.0 L728.9,351.8 L730.0,351.7 L731.0,351.6 L732.0,351.5 L733.0,351.0 L734.0,350.5 L735.0,350.5 L736.0,350.7 L737.0,350.9 L738.0,350.8 L738.9,350.8 L739.9,351.1 L740.9,351.1 L741.9,351.1 L742.9,351.4 L743.9,352.2 L744.8,353.0 L745.8,353.4 L746.8,353.6 L747.8,353.8 L748.8,353.8 L749.8,353.8 L750.7,354.0 L751.7,353.9 L752.7,353.4 L753.7,352.9 L754.7,352.7 L755.7,352.4 L756.7,352.1 L757.6,352.1 L758.6,351.9 L759.6,351.7 L760.6,351.6 L761.6,351.8 L762.6,351.9 L763.6,352.2 L764.6,352.7 L765.6,352.9 L766.6,353.1 L767.6,353.0 L768.6,352.5 L769.6,352.7 L770.6,353.1 L771.6,353.3 L772.6,353.3 L773.6,353.1 L774.6,353.0 L775.6,353.1 L776.6,353.2 L777.6,353.7 L778.6,353.9 L779.6,354.0 L780.6,354.4 L781.6,354.6 L782.6,354.2 L783.6,354.1 L784.6,354.3 L785.6,354.4 L786.6,355.1 L787.6,355.8 L788.6,355.7 L789.6,355.6 L790.6,355.5 L791.6,355.6 L792.6,355.7 L793.6,355.8 L794.6,356.3 L795.6,356.5 L796.6,356.2 L797.6,355.7 L798.7,355.6 L799.7,355.8 L800.7,355.9 L801.7,356.0 L802.7,356.2 L803.7,356.0 L804.7,355.4 L805.7,355.6 L806.6,356.1 L807.6,356.1 L808.6,356.1 L809.6,356.3 L810.5,356.7 L811.5,357.8 L812.4,358.9 L813.4,358.9 L814.3,358.4 L815.3,358.6 L816.2,359.5 L817.1,360.3 L818.0,360.5 L818.7,361.1 L819.4,362.2 L819.9,363.0 L820.4,363.3 L820.9,363.6 L821.3,364.5 L821.7,365.4 L822.1,366.5 L822.5,368.0 L822.9,369.2 L823.3,370.4 L823.8,371.9 L824.1,372.4 L824.5,372.8 L824.9,374.1 L825.3,375.1 L825.7,375.5 L826.1,376.2 L826.4,377.1 L826.8,378.2 L827.2,379.2 L827.6,379.6 L828.0,380.4 L828.5,381.8 L828.9,383.0 L829.3,384.0 L829.7,385.0 L830.2,385.9 L830.6,386.7 L831.1,387.1 L831.5,388.2" fill="none" stroke="#22B14C" stroke-width="7.6" stroke-linecap="round" stroke-linejoin="round"/>
<g fill="none" stroke="#22B14C" stroke-width="1.05"><circle cx="832.5" cy="396.7" r="2.85"/><circle cx="832.8" cy="400.0" r="2.85"/><circle cx="833.3" cy="404.2" r="2.85"/><circle cx="833.3" cy="410.3" r="2.85"/><circle cx="833.8" cy="419.7" r="2.85"/><circle cx="834.0" cy="423.5" r="2.85"/><circle cx="834.2" cy="426.7" r="2.85"/><circle cx="834.5" cy="431.7" r="2.85"/><circle cx="835.0" cy="436.5" r="2.85"/><circle cx="835.2" cy="438.5" r="2.85"/><circle cx="835.5" cy="440.5" r="2.85"/><circle cx="835.8" cy="442.5" r="2.85"/><circle cx="836.2" cy="448.0" r="2.85"/><circle cx="836.6" cy="453.5" r="2.85"/><circle cx="836.8" cy="456.0" r="2.85"/><circle cx="852.3" cy="521.3" r="2.85"/></g>
<g fill="none" stroke="#22B14C" stroke-width="1.05"><circle cx="837.1" cy="460.0" r="2.85"/><circle cx="837.6" cy="461.2" r="2.85"/><circle cx="837.7" cy="463.3" r="2.85"/><circle cx="838.3" cy="464.3" r="2.85"/><circle cx="839.1" cy="466.7" r="2.85"/><circle cx="838.5" cy="467.6" r="2.85"/><circle cx="840.0" cy="469.2" r="2.85"/><circle cx="839.7" cy="470.4" r="2.85"/><circle cx="839.9" cy="471.9" r="2.85"/><circle cx="840.3" cy="473.6" r="2.85"/><circle cx="840.7" cy="474.8" r="2.85"/><circle cx="840.9" cy="476.4" r="2.85"/><circle cx="841.3" cy="477.8" r="2.85"/><circle cx="842.2" cy="479.5" r="2.85"/><circle cx="842.4" cy="481.0" r="2.85"/><circle cx="842.6" cy="482.4" r="2.85"/><circle cx="842.8" cy="484.1" r="2.85"/><circle cx="842.9" cy="485.8" r="2.85"/><circle cx="843.6" cy="486.6" r="2.85"/><circle cx="843.8" cy="488.1" r="2.85"/><circle cx="844.4" cy="489.6" r="2.85"/><circle cx="845.2" cy="491.1" r="2.85"/><circle cx="844.6" cy="492.5" r="2.85"/><circle cx="845.2" cy="494.2" r="2.85"/><circle cx="846.6" cy="495.8" r="2.85"/><circle cx="846.4" cy="496.9" r="2.85"/><circle cx="847.9" cy="498.6" r="2.85"/><circle cx="847.9" cy="500.3" r="2.85"/><circle cx="849.1" cy="501.8" r="2.85"/><circle cx="849.0" cy="503.0" r="2.85"/><circle cx="849.6" cy="504.1" r="2.85"/><circle cx="849.7" cy="505.7" r="2.85"/><circle cx="850.3" cy="507.1" r="2.85"/><circle cx="851.2" cy="509.3" r="2.85"/><circle cx="851.4" cy="510.0" r="2.85"/></g>
<g fill="none" stroke="#F7941D" stroke-width="1.05"><circle cx="624.5" cy="52.0" r="2.85"/><circle cx="624.6" cy="56.0" r="2.85"/><circle cx="624.8" cy="62.0" r="2.85"/><circle cx="625.0" cy="66.0" r="2.85"/><circle cx="625.0" cy="74.0" r="2.85"/><circle cx="625.2" cy="79.0" r="2.85"/><circle cx="625.4" cy="84.0" r="2.85"/><circle cx="625.5" cy="88.0" r="2.85"/><circle cx="625.6" cy="93.0" r="2.85"/><circle cx="626.0" cy="97.0" r="2.85"/><circle cx="626.0" cy="102.0" r="2.85"/><circle cx="626.3" cy="108.0" r="2.85"/><circle cx="626.5" cy="114.0" r="2.85"/><circle cx="626.8" cy="118.0" r="2.85"/><circle cx="627.2" cy="127.5" r="2.85"/><circle cx="627.2" cy="132.5" r="2.85"/><circle cx="627.2" cy="182.5" r="2.85"/><circle cx="627.3" cy="187.5" r="2.85"/><circle cx="627.4" cy="191.0" r="2.85"/><circle cx="627.5" cy="200.0" r="2.85"/><circle cx="627.6" cy="204.0" r="2.85"/><circle cx="627.5" cy="225.8" r="2.85"/></g>
<g fill="none" stroke="#F7941D" stroke-width="1.05"><circle cx="626.7" cy="250.1" r="2.85"/><circle cx="627.1" cy="253.3" r="2.85"/><circle cx="626.9" cy="256.5" r="2.85"/><circle cx="627.1" cy="260.4" r="2.85"/><circle cx="627.5" cy="263.5" r="2.85"/><circle cx="627.7" cy="267.1" r="2.85"/><circle cx="628.1" cy="270.4" r="2.85"/><circle cx="628.3" cy="273.6" r="2.85"/><circle cx="628.4" cy="277.7" r="2.85"/><circle cx="628.5" cy="280.7" r="2.85"/><circle cx="629.3" cy="284.1" r="2.85"/><circle cx="629.5" cy="287.6" r="2.85"/><circle cx="630.0" cy="291.0" r="2.85"/></g>
<g fill="none" stroke="#F7941D" stroke-width="1.05"><circle cx="630.1" cy="319.2" r="2.85"/><circle cx="630.5" cy="320.7" r="2.85"/><circle cx="630.9" cy="322.6" r="2.85"/><circle cx="631.2" cy="324.0" r="2.85"/><circle cx="631.4" cy="326.0" r="2.85"/><circle cx="631.7" cy="327.7" r="2.85"/><circle cx="631.6" cy="329.0" r="2.85"/><circle cx="631.9" cy="330.4" r="2.85"/><circle cx="632.0" cy="332.2" r="2.85"/><circle cx="632.0" cy="333.6" r="2.85"/><circle cx="632.1" cy="335.6" r="2.85"/><circle cx="632.6" cy="337.5" r="2.85"/><circle cx="632.5" cy="338.9" r="2.85"/><circle cx="632.6" cy="340.7" r="2.85"/><circle cx="632.8" cy="342.4" r="2.85"/><circle cx="633.4" cy="343.9" r="2.85"/><circle cx="632.9" cy="345.4" r="2.85"/><circle cx="633.1" cy="346.9" r="2.85"/><circle cx="633.8" cy="348.9" r="2.85"/><circle cx="633.4" cy="350.6" r="2.85"/><circle cx="634.1" cy="352.0" r="2.85"/><circle cx="633.8" cy="353.7" r="2.85"/><circle cx="634.2" cy="355.5" r="2.85"/><circle cx="634.5" cy="357.3" r="2.85"/><circle cx="634.7" cy="359.0" r="2.85"/><circle cx="634.8" cy="360.0" r="2.85"/><circle cx="634.8" cy="362.0" r="2.85"/><circle cx="635.0" cy="363.8" r="2.85"/><circle cx="635.2" cy="365.1" r="2.85"/><circle cx="635.8" cy="367.0" r="2.85"/><circle cx="635.8" cy="368.7" r="2.85"/><circle cx="636.2" cy="370.2" r="2.85"/><circle cx="635.8" cy="371.7" r="2.85"/><circle cx="636.5" cy="373.2" r="2.85"/><circle cx="636.9" cy="375.3" r="2.85"/><circle cx="637.1" cy="376.4" r="2.85"/><circle cx="637.9" cy="378.2" r="2.85"/></g>
<path d="M637.0,374.6 L637.1,376.0 L637.1,377.1 L637.2,378.0 L637.3,379.1 L637.3,379.8 L637.4,380.7 L637.5,382.1 L637.6,383.2 L637.7,384.0 L637.8,385.0 L637.9,386.5 L638.0,387.8 L638.1,388.5 L638.2,389.3 L638.3,390.2 L638.4,391.1 L638.5,392.4 L638.6,393.6 L638.8,394.6 L638.9,395.2 L639.0,395.8 L639.2,396.8 L639.3,398.2 L639.5,399.5 L639.6,400.6 L639.8,401.5 L639.9,402.6 L640.1,403.7 L640.2,404.0 L640.4,404.3 L640.6,405.1 L640.8,406.5 L641.0,408.1 L641.1,409.1 L641.3,410.2 L641.5,411.5 L641.7,412.6 L641.9,413.4 L642.2,413.9 L642.4,414.7 L642.6,415.8 L642.9,416.7 L643.2,417.5 L643.4,418.8 L643.7,419.9 L644.0,420.3 L644.3,421.2 L644.6,422.3 L644.9,423.5 L645.2,424.7 L645.5,425.6 L645.9,426.3 L646.2,427.1 L646.5,428.2 L646.8,429.3 L647.2,430.3 L647.5,430.8 L647.9,431.1 L648.2,432.4 L648.5,434.1 L648.9,435.4 L649.2,436.2 L649.6,436.7 L649.9,437.5 L650.3,439.1 L650.7,440.4 L651.1,440.8 L651.5,441.1 L651.9,441.9 L652.3,443.7 L652.7,445.3 L653.1,446.0 L653.5,446.6 L654.0,447.1 L654.4,447.8 L654.8,448.8 L655.3,449.4 L655.8,450.3 L656.2,451.6 L656.7,452.7 L657.2,453.5 L657.7,454.1 L658.3,454.5 L658.8,455.2 L659.3,456.3 L659.9,457.0 L660.5,457.4 L661.1,458.3 L661.8,459.1 L662.4,459.7 L663.1,460.4 L663.8,461.4 L664.5,462.7 L665.2,464.1 L665.9,464.8 L666.7,464.7 L667.5,465.4 L668.2,466.4 L669.0,466.9 L669.8,467.5 L670.6,468.3 L671.5,468.3 L672.4,468.1 L673.3,468.6 L674.2,469.5 L675.2,469.9 L676.1,469.8 L677.1,470.2 L678.1,471.1 L679.0,471.5 L680.0,471.7 L680.9,472.2 L681.9,472.3 L682.9,472.1 L683.8,472.5 L684.8,473.1 L685.8,472.9 L686.7,472.8 L687.7,473.6 L688.7,474.7 L689.6,474.8 L690.6,474.8 L691.5,475.4 L692.5,475.7 L693.4,476.1 L694.4,476.9 L695.3,477.1 L696.3,476.9 L697.2,476.9 L698.2,477.4 L699.2,477.2 L700.1,477.5 L701.1,478.7 L702.1,479.2 L703.1,478.9 L704.1,478.7 L705.1,479.2 L706.1,479.7 L707.1,479.5 L708.1,479.0 L709.1,478.6 L710.1,478.6 L711.1,478.4 L712.1,478.8 L713.0,479.5 L714.0,479.8 L715.0,480.2 L715.9,481.0 L716.9,481.8 L717.9,482.0 L718.8,481.9 L719.8,482.0 L720.8,481.9 L721.8,482.1 L722.8,482.4 L723.8,482.2 L724.7,482.2 L725.7,482.4 L726.7,483.1 L727.7,483.6 L728.7,483.4 L729.7,483.3 L730.7,483.2 L731.7,483.1 L732.7,483.6 L733.7,484.8 L734.7,485.4 L735.7,484.9 L736.6,484.7 L737.6,485.0 L738.6,485.2 L739.6,485.5 L740.6,485.8 L741.6,485.9 L742.5,486.0 L743.5,486.0 L744.5,485.8 L745.5,485.8 L746.5,486.1 L747.5,486.4 L748.4,486.7 L749.4,487.1 L750.4,487.5 L751.4,487.7 L752.4,487.5 L753.3,487.6 L754.3,488.2 L755.3,489.0 L756.3,489.7 L757.3,489.6 L758.2,489.6 L759.2,489.8 L760.2,489.8 L761.2,490.2 L762.2,489.9 L763.1,490.0 L764.1,491.4 L765.1,491.8 L766.1,491.2 L767.0,491.3 L768.0,491.7 L769.0,491.7 L770.0,491.6 L771.0,492.0 L772.0,492.7 L772.9,493.2 L773.9,493.6 L774.9,494.0 L775.9,494.3 L776.8,494.1 L777.8,493.9 L778.7,493.8 L779.7,494.4 L780.6,495.3 L781.5,495.6 L782.4,496.1 L783.2,496.5 L784.1,496.7 L785.0,497.3 L785.8,497.9 L786.7,498.6 L787.6,499.5 L788.5,499.9 L789.4,499.9 L790.3,500.2 L791.2,500.8 L792.2,501.4 L793.1,502.2 L794.1,502.9 L795.1,502.8 L796.0,502.4 L797.0,502.4 L798.0,502.4 L798.9,502.6 L799.9,502.9 L800.9,503.4 L801.8,504.0 L802.8,504.4 L803.8,504.6 L804.7,504.6 L805.7,505.0 L806.7,505.9 L807.6,506.5 L808.6,506.9 L809.5,507.3 L810.4,507.4 L811.3,507.6 L812.2,508.4 L813.1,509.0 L813.9,509.0 L814.8,509.7 L815.6,510.6 L816.5,510.9 L817.4,511.4 L818.2,511.9 L819.1,512.0 L819.9,512.4 L820.8,512.6 L821.7,513.0 L822.6,513.6 L823.5,514.3 L824.3,515.0 L825.2,515.3 L826.1,515.8 L827.0,517.0 L827.9,517.7 L828.7,517.7 L829.6,517.8 L830.5,518.3 L831.4,519.0 L832.3,519.2 L833.1,519.4 L834.0,520.7 L834.9,521.5 L835.8,521.3 L836.6,521.8 L837.5,522.5 L838.4,522.9 L839.3,523.4 L840.2,523.5 L841.1,524.2 L842.0,525.0 L842.9,525.1 L843.8,525.3 L844.7,525.8 L845.6,526.5 L846.5,527.1 L847.4,527.3 L848.3,527.5 L849.2,527.8 L850.2,528.4 L851.1,528.3 L852.1,528.1 L853.1,528.7 L854.1,529.2 L854.9,529.9 L855.7,530.7 L856.5,530.8 L857.2,531.5 L857.9,532.9 L858.5,534.0 L859.2,534.8 L859.9,535.2 L860.5,535.5 L861.1,536.6 L861.7,537.9 L862.3,538.6 L863.0,539.1 L863.6,539.7 L864.3,540.3 L865.0,541.3 L865.7,542.4 L866.4,542.7 L867.2,542.7 L868.0,543.5" fill="none" stroke="#F7941D" stroke-width="7.6" stroke-linecap="round" stroke-linejoin="round"/>
<g fill="none" stroke="#EE3422" stroke-width="1.05"><circle cx="625.0" cy="23.0" r="2.85"/><circle cx="625.0" cy="32.3" r="2.85"/><circle cx="625.0" cy="37.6" r="2.85"/><circle cx="625.2" cy="39.0" r="2.85"/><circle cx="625.1" cy="40.4" r="2.85"/><circle cx="625.2" cy="44.8" r="2.85"/><circle cx="625.2" cy="50.3" r="2.85"/><circle cx="625.3" cy="58.5" r="2.85"/><circle cx="625.3" cy="61.0" r="2.85"/><circle cx="625.4" cy="64.0" r="2.85"/><circle cx="625.0" cy="66.2" r="2.85"/><circle cx="625.1" cy="69.2" r="2.85"/><circle cx="625.3" cy="71.8" r="2.85"/><circle cx="625.7" cy="73.9" r="2.85"/><circle cx="625.1" cy="76.0" r="2.85"/><circle cx="625.8" cy="80.1" r="2.85"/><circle cx="625.5" cy="81.8" r="2.85"/><circle cx="625.7" cy="83.6" r="2.85"/><circle cx="626.3" cy="85.6" r="2.85"/><circle cx="626.1" cy="88.4" r="2.85"/><circle cx="626.0" cy="89.9" r="2.85"/><circle cx="626.2" cy="92.5" r="2.85"/><circle cx="626.3" cy="97.0" r="2.85"/><circle cx="626.5" cy="100.5" r="2.85"/><circle cx="626.6" cy="105.0" r="2.85"/><circle cx="626.6" cy="107.0" r="2.85"/><circle cx="626.3" cy="109.5" r="2.85"/><circle cx="627.1" cy="111.1" r="2.85"/><circle cx="627.0" cy="114.6" r="2.85"/><circle cx="626.7" cy="118.2" r="2.85"/><circle cx="627.4" cy="141.7" r="2.85"/><circle cx="627.3" cy="150.8" r="2.85"/><circle cx="627.5" cy="154.2" r="2.85"/><circle cx="627.3" cy="159.2" r="2.85"/><circle cx="627.5" cy="165.0" r="2.85"/><circle cx="627.4" cy="168.3" r="2.85"/><circle cx="627.7" cy="170.8" r="2.85"/><circle cx="627.6" cy="176.7" r="2.85"/><circle cx="627.7" cy="189.5" r="2.85"/><circle cx="627.9" cy="192.5" r="2.85"/><circle cx="627.8" cy="198.3" r="2.85"/><circle cx="628.0" cy="202.0" r="2.85"/><circle cx="628.0" cy="206.5" r="2.85"/><circle cx="628.2" cy="210.8" r="2.85"/><circle cx="628.2" cy="213.3" r="2.85"/><circle cx="628.3" cy="215.8" r="2.85"/><circle cx="628.3" cy="218.3" r="2.85"/><circle cx="628.4" cy="220.5" r="2.85"/><circle cx="628.4" cy="223.7" r="2.85"/><circle cx="628.3" cy="225.0" r="2.85"/><circle cx="628.4" cy="226.0" r="2.85"/><circle cx="628.5" cy="226.9" r="2.85"/><circle cx="628.7" cy="227.5" r="2.85"/><circle cx="628.7" cy="228.4" r="2.85"/><circle cx="628.8" cy="229.2" r="2.85"/><circle cx="628.8" cy="230.3" r="2.85"/><circle cx="629.0" cy="231.5" r="2.85"/><circle cx="628.9" cy="232.0" r="2.85"/><circle cx="629.2" cy="232.6" r="2.85"/><circle cx="629.1" cy="233.9" r="2.85"/><circle cx="629.4" cy="235.0" r="2.85"/><circle cx="629.3" cy="235.7" r="2.85"/><circle cx="629.4" cy="237.0" r="2.85"/><circle cx="629.5" cy="237.5" r="2.85"/><circle cx="629.7" cy="238.5" r="2.85"/><circle cx="629.7" cy="239.1" r="2.85"/><circle cx="629.8" cy="240.2" r="2.85"/><circle cx="630.1" cy="241.3" r="2.85"/><circle cx="630.0" cy="242.3" r="2.85"/><circle cx="630.1" cy="243.3" r="2.85"/><circle cx="630.2" cy="244.1" r="2.85"/><circle cx="630.1" cy="244.9" r="2.85"/><circle cx="630.2" cy="245.3" r="2.85"/><circle cx="630.4" cy="246.4" r="2.85"/><circle cx="630.6" cy="248.0" r="2.85"/><circle cx="630.5" cy="248.3" r="2.85"/><circle cx="630.8" cy="249.5" r="2.85"/><circle cx="630.8" cy="250.2" r="2.85"/><circle cx="631.0" cy="251.3" r="2.85"/><circle cx="630.9" cy="252.0" r="2.85"/><circle cx="631.1" cy="252.7" r="2.85"/><circle cx="631.2" cy="253.7" r="2.85"/><circle cx="631.4" cy="254.8" r="2.85"/><circle cx="631.4" cy="255.6" r="2.85"/><circle cx="631.4" cy="256.1" r="2.85"/><circle cx="631.4" cy="257.6" r="2.85"/><circle cx="631.4" cy="258.6" r="2.85"/><circle cx="631.5" cy="259.5" r="2.85"/><circle cx="631.7" cy="260.4" r="2.85"/><circle cx="631.9" cy="260.8" r="2.85"/><circle cx="632.2" cy="262.4" r="2.85"/><circle cx="632.1" cy="262.9" r="2.85"/><circle cx="632.2" cy="263.6" r="2.85"/><circle cx="632.4" cy="264.6" r="2.85"/><circle cx="632.4" cy="265.5" r="2.85"/><circle cx="632.4" cy="266.3" r="2.85"/><circle cx="632.7" cy="267.4" r="2.85"/><circle cx="632.8" cy="268.4" r="2.85"/><circle cx="632.6" cy="269.2" r="2.85"/><circle cx="632.8" cy="270.2" r="2.85"/><circle cx="632.9" cy="271.0" r="2.85"/><circle cx="632.8" cy="271.8" r="2.85"/><circle cx="633.3" cy="272.7" r="2.85"/><circle cx="633.1" cy="273.9" r="2.85"/><circle cx="633.4" cy="274.4" r="2.85"/><circle cx="633.3" cy="275.5" r="2.85"/><circle cx="633.2" cy="276.7" r="2.85"/><circle cx="633.5" cy="277.4" r="2.85"/><circle cx="633.4" cy="278.4" r="2.85"/><circle cx="633.5" cy="279.2" r="2.85"/><circle cx="633.5" cy="279.9" r="2.85"/><circle cx="633.9" cy="280.9" r="2.85"/><circle cx="633.8" cy="281.9" r="2.85"/><circle cx="633.8" cy="282.7" r="2.85"/><circle cx="634.0" cy="283.7" r="2.85"/><circle cx="634.0" cy="284.7" r="2.85"/><circle cx="634.2" cy="285.7" r="2.85"/><circle cx="634.1" cy="286.3" r="2.85"/><circle cx="634.0" cy="287.6" r="2.85"/><circle cx="634.3" cy="288.3" r="2.85"/><circle cx="634.4" cy="289.4" r="2.85"/><circle cx="634.5" cy="290.3" r="2.85"/><circle cx="634.4" cy="291.3" r="2.85"/><circle cx="634.5" cy="294.0" r="2.85"/><circle cx="634.7" cy="297.0" r="2.85"/></g>
<g fill="none" stroke="#EE3422" stroke-width="1.05"><circle cx="635.4" cy="301.7" r="2.85"/><circle cx="635.3" cy="302.6" r="2.85"/><circle cx="635.5" cy="303.7" r="2.85"/><circle cx="635.2" cy="305.7" r="2.85"/><circle cx="635.5" cy="306.9" r="2.85"/><circle cx="635.9" cy="308.3" r="2.85"/><circle cx="635.7" cy="310.0" r="2.85"/><circle cx="635.9" cy="310.7" r="2.85"/><circle cx="635.9" cy="312.2" r="2.85"/><circle cx="635.5" cy="313.4" r="2.85"/><circle cx="635.7" cy="314.2" r="2.85"/><circle cx="635.8" cy="316.0" r="2.85"/><circle cx="635.8" cy="317.0" r="2.85"/><circle cx="635.9" cy="318.7" r="2.85"/><circle cx="636.1" cy="319.8" r="2.85"/><circle cx="636.3" cy="321.1" r="2.85"/><circle cx="636.1" cy="323.0" r="2.85"/><circle cx="636.1" cy="323.9" r="2.85"/><circle cx="636.6" cy="325.3" r="2.85"/><circle cx="636.4" cy="326.7" r="2.85"/><circle cx="636.8" cy="327.4" r="2.85"/><circle cx="636.4" cy="329.1" r="2.85"/><circle cx="636.5" cy="330.4" r="2.85"/><circle cx="636.6" cy="332.0" r="2.85"/><circle cx="636.8" cy="333.3" r="2.85"/><circle cx="637.2" cy="334.4" r="2.85"/><circle cx="637.3" cy="336.4" r="2.85"/><circle cx="637.5" cy="337.1" r="2.85"/><circle cx="637.5" cy="338.3" r="2.85"/><circle cx="637.7" cy="340.1" r="2.85"/><circle cx="637.6" cy="341.2" r="2.85"/><circle cx="638.2" cy="342.4" r="2.85"/><circle cx="638.1" cy="343.6" r="2.85"/><circle cx="638.0" cy="345.0" r="2.85"/><circle cx="638.8" cy="346.4" r="2.85"/><circle cx="638.2" cy="347.7" r="2.85"/><circle cx="638.4" cy="349.3" r="2.85"/><circle cx="638.6" cy="351.0" r="2.85"/><circle cx="638.7" cy="352.2" r="2.85"/><circle cx="638.8" cy="353.3" r="2.85"/><circle cx="638.4" cy="354.4" r="2.85"/><circle cx="638.8" cy="355.7" r="2.85"/><circle cx="638.3" cy="357.3" r="2.85"/><circle cx="638.9" cy="358.3" r="2.85"/><circle cx="639.0" cy="359.7" r="2.85"/><circle cx="639.2" cy="360.8" r="2.85"/><circle cx="638.9" cy="362.5" r="2.85"/><circle cx="639.3" cy="363.6" r="2.85"/><circle cx="639.2" cy="364.8" r="2.85"/><circle cx="639.4" cy="366.7" r="2.85"/><circle cx="639.2" cy="368.1" r="2.85"/><circle cx="639.7" cy="368.9" r="2.85"/><circle cx="639.8" cy="370.0" r="2.85"/><circle cx="639.2" cy="371.4" r="2.85"/><circle cx="639.6" cy="372.9" r="2.85"/><circle cx="639.7" cy="374.3" r="2.85"/><circle cx="639.3" cy="375.8" r="2.85"/><circle cx="639.6" cy="376.8" r="2.85"/><circle cx="639.9" cy="378.0" r="2.85"/></g>
<path d="M639.7,374.4 L639.8,375.5 L639.9,376.9 L640.0,378.3 L640.1,379.1 L640.3,379.6 L640.4,380.4 L640.5,381.6 L640.7,382.7 L640.8,383.6 L640.9,385.0 L641.1,385.9 L641.2,386.7 L641.4,388.1 L641.5,389.4 L641.7,390.4 L641.9,391.4 L642.0,392.3 L642.2,393.6 L642.3,394.5 L642.5,395.3 L642.7,396.4 L642.9,397.2 L643.0,397.8 L643.2,398.6 L643.4,399.8 L643.6,400.9 L643.8,401.7 L644.1,402.9 L644.3,404.1 L644.5,404.6 L644.8,405.1 L645.0,406.4 L645.3,407.8 L645.6,408.5 L645.9,409.1 L646.2,409.9 L646.6,411.2 L647.0,412.4 L647.4,413.2 L647.8,413.9 L648.2,415.1 L648.6,416.3 L649.0,417.1 L649.4,417.7 L649.8,418.9 L650.2,420.3 L650.6,420.7 L651.0,421.2 L651.4,422.2 L651.8,423.3 L652.1,424.9 L652.5,426.0 L652.8,426.1 L653.2,426.8 L653.5,428.5 L653.9,429.9 L654.2,430.7 L654.6,431.4 L654.9,431.9 L655.3,432.5 L655.6,433.2 L656.0,434.3 L656.4,435.8 L656.7,437.1 L657.1,438.3 L657.4,439.0 L657.8,439.6 L658.2,441.0 L658.6,442.3 L659.0,442.6 L659.5,443.0 L659.9,444.2 L660.4,445.3 L661.0,445.6 L661.6,446.3 L662.3,447.4 L662.9,448.0 L663.6,448.3 L664.4,449.0 L665.1,449.8 L665.9,450.8 L666.6,451.8 L667.4,452.7 L668.2,453.0 L668.9,453.2 L669.7,454.3 L670.4,455.4 L671.1,456.1 L671.8,456.7 L672.5,457.0 L673.2,457.6 L674.0,458.5 L674.7,458.7 L675.4,459.3 L676.2,460.5 L676.9,461.2 L677.7,461.5 L678.4,461.9 L679.2,462.4 L680.0,463.1 L680.9,464.1 L681.7,464.6 L682.6,464.8 L683.4,465.6 L684.3,465.9 L685.2,466.4 L686.1,467.3 L687.0,467.6 L687.9,468.0 L688.8,468.9 L689.7,469.1 L690.7,469.5 L691.6,470.3 L692.5,470.8 L693.4,471.1 L694.3,471.4 L695.2,471.8 L696.2,472.2 L697.1,472.3 L698.1,472.8 L699.0,473.6 L700.0,473.7 L700.9,474.0 L701.9,474.6 L702.9,474.3 L703.9,474.1 L704.9,474.1 L705.9,474.0 L706.9,474.2 L707.9,474.0 L708.8,473.1 L709.8,472.6 L710.8,472.5 L711.7,472.4 L712.7,472.4 L713.7,472.5 L714.6,472.5 L715.6,473.0 L716.5,473.7 L717.4,474.3 L718.4,474.7 L719.4,474.9 L720.3,475.3 L721.3,475.5 L722.3,475.3 L723.3,475.2 L724.3,475.6 L725.3,476.0 L726.3,476.2 L727.3,476.6 L728.3,477.2 L729.3,477.6 L730.3,477.6 L731.3,477.1 L732.3,477.0 L733.3,477.6 L734.3,477.9 L735.3,478.0 L736.2,478.2 L737.2,478.4 L738.2,478.6 L739.2,478.6 L740.2,478.7 L741.2,478.7 L742.2,478.7 L743.2,479.0 L744.2,479.1 L745.2,479.2 L746.2,479.5 L747.2,479.6 L748.2,479.6 L749.2,479.6 L750.2,479.9 L751.2,480.3 L752.2,479.9 L753.2,479.5 L754.2,479.7 L755.2,480.4 L756.2,481.1 L757.2,481.1 L758.2,480.9 L759.2,480.7 L760.2,481.1 L761.2,481.7 L762.2,481.9 L763.2,481.6 L764.1,481.8 L765.1,481.9 L766.1,481.7 L767.1,482.0 L768.1,482.0 L769.1,482.0 L770.1,482.8 L771.0,483.3 L772.0,483.1 L773.0,483.4 L773.9,484.3 L774.9,484.8 L775.8,485.3 L776.8,485.6 L777.7,485.7 L778.6,486.0 L779.5,486.4 L780.4,486.7 L781.2,487.3 L782.1,488.0 L782.9,488.8 L783.7,489.2 L784.5,489.5 L785.3,490.2 L786.1,490.8 L786.9,491.2 L787.7,491.9 L788.4,492.6 L789.2,493.3 L790.0,493.9 L790.7,494.9 L791.4,496.3 L792.2,497.0 L792.9,497.2 L793.6,498.0 L794.3,499.1 L795.0,499.5 L795.7,499.9 L796.4,500.7 L797.1,501.6 L797.7,502.5 L798.4,503.3 L799.1,504.1 L799.7,504.5 L800.4,505.0 L801.1,505.9 L801.7,506.9 L802.4,507.5 L803.1,508.2 L803.7,509.4 L804.4,510.0 L805.0,510.3 L805.6,510.8 L806.2,511.6 L806.7,512.7 L807.2,513.7 L807.7,514.4 L808.2,515.1 L808.6,516.0 L809.1,517.1 L809.5,518.5 L809.9,519.4 L810.3,519.7 L810.7,520.6 L811.0,521.9 L811.4,522.9 L811.7,523.6 L812.0,524.5 L812.4,525.5 L812.7,526.8 L813.0,527.8 L813.3,528.7 L813.6,529.7 L813.8,530.3 L814.1,531.1 L814.3,532.5 L814.5,533.7 L814.7,534.7 L814.9,536.0 L815.0,536.9 L815.2,537.2 L815.3,538.3 L815.4,540.1 L815.6,541.1 L815.7,541.3 L815.7,541.9 L815.8,543.1" fill="none" stroke="#EE3422" stroke-width="7.6" stroke-linecap="round" stroke-linejoin="round"/>
<g fill="none" stroke="#EE3422" stroke-width="1.05"><circle cx="861.5" cy="544.1" r="2.85"/><circle cx="862.4" cy="544.4" r="2.85"/><circle cx="863.3" cy="544.6" r="2.85"/><circle cx="864.2" cy="544.1" r="2.85"/><circle cx="865.1" cy="544.4" r="2.85"/><circle cx="866.0" cy="544.6" r="2.85"/><circle cx="866.9" cy="544.1" r="2.85"/><circle cx="867.8" cy="544.4" r="2.85"/><circle cx="868.7" cy="544.6" r="2.85"/><circle cx="869.6" cy="544.1" r="2.85"/><circle cx="870.5" cy="544.4" r="2.85"/><circle cx="871.4" cy="544.6" r="2.85"/><circle cx="872.3" cy="544.1" r="2.85"/><circle cx="873.3" cy="544.2" r="2.85"/></g>
<g fill="none" stroke="#F7941D" stroke-width="1.05"><circle cx="625.6" cy="63.3" r="2.85"/><circle cx="626.0" cy="71.7" r="2.85"/><circle cx="625.7" cy="76.3" r="2.85"/><circle cx="626.2" cy="84.5" r="2.85"/></g>
<g fill="none" stroke="#22B14C" stroke-width="1.05"><circle cx="619.6" cy="544.2" r="2.85"/></g>
<g fill="none" stroke="#EE3422" stroke-width="1.05"><circle cx="618.4" cy="543.9" r="2.85"/></g>
</g>
<rect x="92.0" y="21.8" width="438.5" height="521.7" fill="none" stroke="#262626" stroke-width="1.6"/><path d="M113.92,543.5v-3.2M113.92,21.8v3.2M135.85,543.5v-3.2M135.85,21.8v3.2M157.78,543.5v-3.2M157.78,21.8v3.2M179.70,543.5v-5.0M179.70,21.8v5.0M201.62,543.5v-3.2M201.62,21.8v3.2M223.55,543.5v-3.2M223.55,21.8v3.2M245.47,543.5v-3.2M245.47,21.8v3.2M267.40,543.5v-5.0M267.40,21.8v5.0M289.32,543.5v-3.2M289.32,21.8v3.2M311.25,543.5v-3.2M311.25,21.8v3.2M333.18,543.5v-3.2M333.18,21.8v3.2M355.10,543.5v-5.0M355.10,21.8v5.0M377.02,543.5v-3.2M377.02,21.8v3.2M398.95,543.5v-3.2M398.95,21.8v3.2M420.88,543.5v-3.2M420.88,21.8v3.2M442.80,543.5v-5.0M442.80,21.8v5.0M464.73,543.5v-3.2M464.73,21.8v3.2M486.65,543.5v-3.2M486.65,21.8v3.2M508.57,543.5v-3.2M508.57,21.8v3.2M92.0,479.94h5M530.5,479.94h-5M92.0,416.38h5M530.5,416.38h-5M92.0,352.81h5M530.5,352.81h-5M92.0,289.25h5M530.5,289.25h-5M92.0,225.69h5M530.5,225.69h-5M92.0,162.12h5M530.5,162.12h-5M92.0,98.56h5M530.5,98.56h-5M92.0,35.00h5M530.5,35.00h-5M92.0,530.79h3.2M530.5,530.79h-3.2M92.0,518.08h3.2M530.5,518.08h-3.2M92.0,505.36h3.2M530.5,505.36h-3.2M92.0,492.65h3.2M530.5,492.65h-3.2M92.0,467.23h3.2M530.5,467.23h-3.2M92.0,454.51h3.2M530.5,454.51h-3.2M92.0,441.80h3.2M530.5,441.80h-3.2M92.0,429.09h3.2M530.5,429.09h-3.2M92.0,403.66h3.2M530.5,403.66h-3.2M92.0,390.95h3.2M530.5,390.95h-3.2M92.0,378.24h3.2M530.5,378.24h-3.2M92.0,365.52h3.2M530.5,365.52h-3.2M92.0,340.10h3.2M530.5,340.10h-3.2M92.0,327.39h3.2M530.5,327.39h-3.2M92.0,314.68h3.2M530.5,314.68h-3.2M92.0,301.96h3.2M530.5,301.96h-3.2M92.0,276.54h3.2M530.5,276.54h-3.2M92.0,263.82h3.2M530.5,263.82h-3.2M92.0,251.11h3.2M530.5,251.11h-3.2M92.0,238.40h3.2M530.5,238.40h-3.2M92.0,212.98h3.2M530.5,212.98h-3.2M92.0,200.26h3.2M530.5,200.26h-3.2M92.0,187.55h3.2M530.5,187.55h-3.2M92.0,174.84h3.2M530.5,174.84h-3.2M92.0,149.41h3.2M530.5,149.41h-3.2M92.0,136.70h3.2M530.5,136.70h-3.2M92.0,123.99h3.2M530.5,123.99h-3.2M92.0,111.27h3.2M530.5,111.27h-3.2M92.0,85.85h3.2M530.5,85.85h-3.2M92.0,73.14h3.2M530.5,73.14h-3.2M92.0,60.43h3.2M530.5,60.43h-3.2M92.0,47.71h3.2M530.5,47.71h-3.2" stroke="#262626" stroke-width="1.1" fill="none"/>
<rect x="618.0" y="21.8" width="438.3" height="521.7" fill="none" stroke="#262626" stroke-width="1.6"/><path d="M639.91,543.5v-3.2M639.91,21.8v3.2M661.83,543.5v-3.2M661.83,21.8v3.2M683.75,543.5v-3.2M683.75,21.8v3.2M705.66,543.5v-5.0M705.66,21.8v5.0M727.58,543.5v-3.2M727.58,21.8v3.2M749.49,543.5v-3.2M749.49,21.8v3.2M771.40,543.5v-3.2M771.40,21.8v3.2M793.32,543.5v-5.0M793.32,21.8v5.0M815.24,543.5v-3.2M815.24,21.8v3.2M837.15,543.5v-3.2M837.15,21.8v3.2M859.06,543.5v-3.2M859.06,21.8v3.2M880.98,543.5v-5.0M880.98,21.8v5.0M902.89,543.5v-3.2M902.89,21.8v3.2M924.81,543.5v-3.2M924.81,21.8v3.2M946.72,543.5v-3.2M946.72,21.8v3.2M968.64,543.5v-5.0M968.64,21.8v5.0M990.55,543.5v-3.2M990.55,21.8v3.2M1012.47,543.5v-3.2M1012.47,21.8v3.2M1034.38,543.5v-3.2M1034.38,21.8v3.2M618.0,457.12h5M1056.3,457.12h-5M618.0,370.13h5M1056.3,370.13h-5M618.0,283.15h5M1056.3,283.15h-5M618.0,196.17h5M1056.3,196.17h-5M618.0,109.18h5M1056.3,109.18h-5M618.0,526.70h3.2M1056.3,526.70h-3.2M618.0,509.31h3.2M1056.3,509.31h-3.2M618.0,491.91h3.2M1056.3,491.91h-3.2M618.0,474.51h3.2M1056.3,474.51h-3.2M618.0,439.72h3.2M1056.3,439.72h-3.2M618.0,422.32h3.2M1056.3,422.32h-3.2M618.0,404.93h3.2M1056.3,404.93h-3.2M618.0,387.53h3.2M1056.3,387.53h-3.2M618.0,352.74h3.2M1056.3,352.74h-3.2M618.0,335.34h3.2M1056.3,335.34h-3.2M618.0,317.94h3.2M1056.3,317.94h-3.2M618.0,300.55h3.2M1056.3,300.55h-3.2M618.0,265.75h3.2M1056.3,265.75h-3.2M618.0,248.36h3.2M1056.3,248.36h-3.2M618.0,230.96h3.2M1056.3,230.96h-3.2M618.0,213.56h3.2M1056.3,213.56h-3.2M618.0,178.77h3.2M1056.3,178.77h-3.2M618.0,161.37h3.2M1056.3,161.37h-3.2M618.0,143.98h3.2M1056.3,143.98h-3.2M618.0,126.58h3.2M1056.3,126.58h-3.2M618.0,91.79h3.2M1056.3,91.79h-3.2M618.0,74.39h3.2M1056.3,74.39h-3.2M618.0,56.99h3.2M1056.3,56.99h-3.2M618.0,39.60h3.2M1056.3,39.60h-3.2" stroke="#262626" stroke-width="1.1" fill="none"/>
<g class="serif">
<text transform="translate(92.0,562.4) scale(1.0,1.03)" text-anchor="middle" font-size="21.7">0.0</text>
<text transform="translate(618.0,562.4) scale(1.0,1.03)" text-anchor="middle" font-size="21.7">0.0</text>
<text transform="translate(179.7,562.4) scale(1.0,1.03)" text-anchor="middle" font-size="21.7">0.2</text>
<text transform="translate(705.7,562.4) scale(1.0,1.03)" text-anchor="middle" font-size="21.7">0.2</text>
<text transform="translate(267.4,562.4) scale(1.0,1.03)" text-anchor="middle" font-size="21.7">0.4</text>
<text transform="translate(793.3,562.4) scale(1.0,1.03)" text-anchor="middle" font-size="21.7">0.4</text>
<text transform="translate(355.1,562.4) scale(1.0,1.03)" text-anchor="middle" font-size="21.7">0.6</text>
<text transform="translate(881.0,562.4) scale(1.0,1.03)" text-anchor="middle" font-size="21.7">0.6</text>
<text transform="translate(442.8,562.4) scale(1.0,1.03)" text-anchor="middle" font-size="21.7">0.8</text>
<text transform="translate(968.6,562.4) scale(1.0,1.03)" text-anchor="middle" font-size="21.7">0.8</text>
<text transform="translate(530.5,562.4) scale(1.0,1.03)" text-anchor="middle" font-size="21.7">1.0</text>
<text transform="translate(1056.3,562.4) scale(1.0,1.03)" text-anchor="middle" font-size="21.7">1.0</text>
<text transform="translate(88.0,487.6) scale(0.985,1.03)" text-anchor="end" font-size="21.7">250</text>
<text transform="translate(88.0,424.1) scale(0.985,1.03)" text-anchor="end" font-size="21.7">500</text>
<text transform="translate(88.0,360.5) scale(0.985,1.03)" text-anchor="end" font-size="21.7">750</text>
<text transform="translate(88.0,296.9) scale(0.985,1.03)" text-anchor="end" font-size="21.7">1000</text>
<text transform="translate(88.0,233.4) scale(0.985,1.03)" text-anchor="end" font-size="21.7">1250</text>
<text transform="translate(88.0,169.8) scale(0.985,1.03)" text-anchor="end" font-size="21.7">1500</text>
<text transform="translate(88.0,106.3) scale(0.985,1.03)" text-anchor="end" font-size="21.7">1750</text>
<text transform="translate(88.0,42.7) scale(0.985,1.03)" text-anchor="end" font-size="21.7">2000</text>
<text transform="translate(614.2,464.8) scale(0.985,1.03)" text-anchor="end" font-size="21.7">500</text>
<text transform="translate(614.2,377.8) scale(0.985,1.03)" text-anchor="end" font-size="21.7">1000</text>
<text transform="translate(614.2,290.9) scale(0.985,1.03)" text-anchor="end" font-size="21.7">1500</text>
<text transform="translate(614.2,203.9) scale(0.985,1.03)" text-anchor="end" font-size="21.7">2000</text>
<text transform="translate(614.2,116.9) scale(0.985,1.03)" text-anchor="end" font-size="21.7">2500</text>
<text transform="translate(614.2,29.9) scale(0.985,1.03)" text-anchor="end" font-size="21.7">3000</text>
<text transform="translate(310.8,586.7) scale(1.044,1.0)" text-anchor="middle" font-size="21.7">True Strain</text>
<text transform="translate(837,586.7) scale(1.044,1.0)" text-anchor="middle" font-size="21.7">True Strain</text>
<text transform="translate(36.5,363) rotate(-90) scale(1,1.09)" font-size="21.7" textLength="92.6" lengthAdjust="spacingAndGlyphs">True Stres</text>
<text transform="translate(36.5,257) rotate(-90) scale(1,1.09)" font-size="21.7" textLength="54" lengthAdjust="spacingAndGlyphs">(MPa)</text>
<text transform="translate(562,282.9) rotate(-90) scale(1.014,1.09)" text-anchor="middle" font-size="21.7">Strain Hardening Rate (MPa)</text>
</g>
<g class="sans">
<text x="327.0" y="223.9" font-size="16.7" textLength="132.6" lengthAdjust="spacingAndGlyphs">Nanotwin Ti, 77 K</text>
<text x="326.2" y="374.5" font-size="16.7" textLength="173" lengthAdjust="spacingAndGlyphs">Coarse grained Ti, 77 K</text>
<text x="377.2" y="484.3" font-size="16.7" textLength="118.6" lengthAdjust="spacingAndGlyphs">Nanotwin Ti, RT</text>
<text x="326.5" y="525.3" font-size="16.7" textLength="158.2" lengthAdjust="spacingAndGlyphs">Coarse grained Ti, RT</text>
<text x="854.0" y="200.8" font-size="16.7" textLength="133.2" lengthAdjust="spacingAndGlyphs">Nanotwin Ti, 77 K</text>
<text x="759.7" y="318.1" font-size="16.7" textLength="172.8" lengthAdjust="spacingAndGlyphs">Coarse grained Ti, 77 K</text>
<text x="692.5" y="449" font-size="16.7" textLength="119" lengthAdjust="spacingAndGlyphs">Nanotwin Ti, RT</text>
<text x="637.5" y="531.4" font-size="16.7" textLength="158.4" lengthAdjust="spacingAndGlyphs">Coarse grained Ti, RT</text>
</g>
<path d="M372.0,199.4L360.1,190.2" stroke="#000" stroke-width="2.9" fill="none"/><path d="M353.8,185.3L363.4,187.5L358.3,194.1Z" fill="#000"/>
<path d="M369.6,352.9L357.5,343.6" stroke="#000" stroke-width="2.9" fill="none"/><path d="M351.1,338.8L360.8,340.9L355.7,347.6Z" fill="#000"/>
<path d="M427.7,463.4L415.7,454.0" stroke="#000" stroke-width="2.9" fill="none"/><path d="M409.4,449.1L419.1,451.3L413.9,458.0Z" fill="#000"/>
<path d="M361.0,502.1L348.9,492.8" stroke="#000" stroke-width="2.9" fill="none"/><path d="M342.5,488.0L352.2,490.1L347.1,496.8Z" fill="#000"/>
<path d="M919.3,204.8L902.9,212.3" stroke="#000" stroke-width="2.9" fill="none"/><path d="M895.6,215.6L902.0,208.0L905.5,215.7Z" fill="#000"/>
<path d="M834.6,333.5L817.8,341.4" stroke="#000" stroke-width="2.9" fill="none"/><path d="M810.6,344.8L817.0,337.2L820.5,344.8Z" fill="#000"/>
<path d="M757.0,456.4L740.3,464.1" stroke="#000" stroke-width="2.9" fill="none"/><path d="M733.0,467.4L739.4,459.8L742.9,467.5Z" fill="#000"/>
<path d="M736.6,510.6L752.8,502.9" stroke="#000" stroke-width="2.9" fill="none"/><path d="M760.0,499.4L753.7,507.1L750.1,499.5Z" fill="#000"/>
<text class="lab" transform="translate(15.6,29) scale(0.84,1)" font-size="27">A</text>
<text class="lab" transform="translate(548,29) scale(0.8,1)" font-size="27">B</text>
</svg>
</body></html>
